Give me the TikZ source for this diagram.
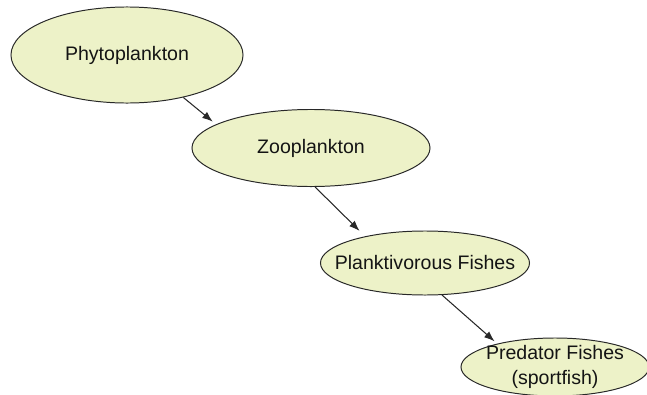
\documentclass[tikz,border=0pt]{standalone}
\usepackage{fontspec}
\setmainfont{Liberation Sans}
\usepackage{tikz}
\usetikzlibrary{arrows.meta, shapes.geometric, positioning}
\definecolor{FoodFill}{RGB}{237,242,200}
\definecolor{FoodLine}{RGB}{40,40,40}
\definecolor{FoodText}{RGB}{20,20,20}

\begin{document}
\begin{tikzpicture}[
    x=0.025cm, y=-0.025cm,
    level/.style={ellipse,draw=FoodLine,fill=FoodFill,line width=0.7pt,
                  text=FoodText,font=\fontsize{13.9}{18}\selectfont,
                  align=center,inner xsep=-12pt,inner ysep=-3pt},
    feed/.style={-{Latex[length=7.5pt,width=5.5pt]},FoodLine,line width=0.75pt}
  ]
    \useasboundingbox (0,0) rectangle (647,395);

    % trophic levels, top left to bottom right
    \node[level,minimum width=5.8cm,minimum height=2.4cm]    (phyto) at (127,55)  {Phytoplankton};
    \node[level,minimum width=5.95cm,minimum height=1.925cm] (zoo)   at (311,148) {Zooplankton};
    \node[level,minimum width=5.225cm,minimum height=1.6cm]  (plank) at (425,263) {Planktivorous Fishes};
    \node[level,minimum width=4.7cm,minimum height=1.45cm]   (pred)  at (555,367) {Predator Fishes\\(sportfish)};

    % who eats whom
    \draw[feed,shorten >=3pt]   (phyto.-37) -- (zoo.166);
    \draw[feed,shorten >=5.5pt] (zoo.-84)   -- (plank.156);
    \draw[feed,shorten >=2.5pt] (plank.-62) -- (pred.158);
  \end{tikzpicture}
\end{document}
